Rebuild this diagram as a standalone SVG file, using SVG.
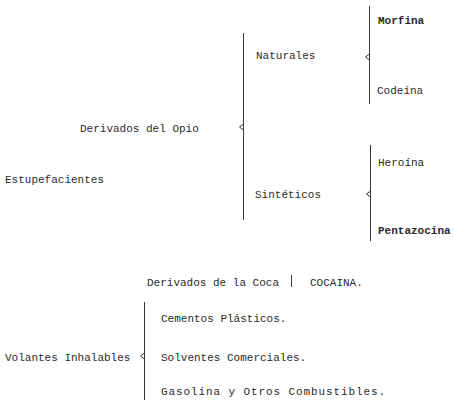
<svg xmlns="http://www.w3.org/2000/svg" width="454" height="400" viewBox="0 0 454 400">
<style>
text{font-family:"Liberation Mono","Courier New",monospace;font-size:11px;fill:#2a2a2a}
.b{font-weight:bold}
.ln{stroke:#3a3a3a;stroke-width:1;fill:none}
</style>
<rect width="454" height="400" fill="#fff"/>
<g id="connectors">
<line class="ln" x1="243.5" y1="33" x2="243.5" y2="220"/>
<path class="ln" d="M243.5 124 L239.5 127 L243.5 130"/>
<line class="ln" x1="369.5" y1="6" x2="369.5" y2="104"/>
<path class="ln" d="M369.5 54 L365.5 57 L369.5 60"/>
<line class="ln" x1="370.5" y1="145" x2="370.5" y2="241"/>
<path class="ln" d="M370.5 191 L366.5 194 L370.5 197"/>
<line class="ln" x1="144.5" y1="302" x2="144.5" y2="400"/>
<path class="ln" d="M144.5 353 L140.5 356 L144.5 359"/>
<line class="ln" x1="291.5" y1="275" x2="291.5" y2="287"/>
</g>
<g id="estupefacientes"><text x="5" y="183">Estupefacientes</text></g>
<g id="opio"><text x="80" y="132">Derivados del Opio</text></g>
<g id="naturales"><text x="256" y="59">Naturales</text></g>
<g id="sinteticos"><text x="255" y="198">Sintéticos</text></g>
<g id="morfina"><text class="b" x="378" y="24">Morfina</text></g>
<g id="codeina"><text x="377" y="94">Codeína</text></g>
<g id="heroina"><text x="378" y="166">Heroína</text></g>
<g id="pentazocina"><text class="b" x="378" y="234">Pentazocina</text></g>
<g id="coca"><text x="147" y="286">Derivados de la Coca</text></g>
<g id="cocaina"><text x="310" y="286">COCAINA.</text></g>
<g id="volantes"><text x="5" y="361">Volantes Inhalables</text></g>
<g id="cementos"><text x="161" y="322">Cementos Plásticos.</text></g>
<g id="solventes"><text x="161" y="361">Solventes Comerciales.</text></g>
<g id="gasolina"><text x="161" y="395" textLength="224" lengthAdjust="spacing">Gasolina y Otros Combustibles.</text></g>
</svg>
